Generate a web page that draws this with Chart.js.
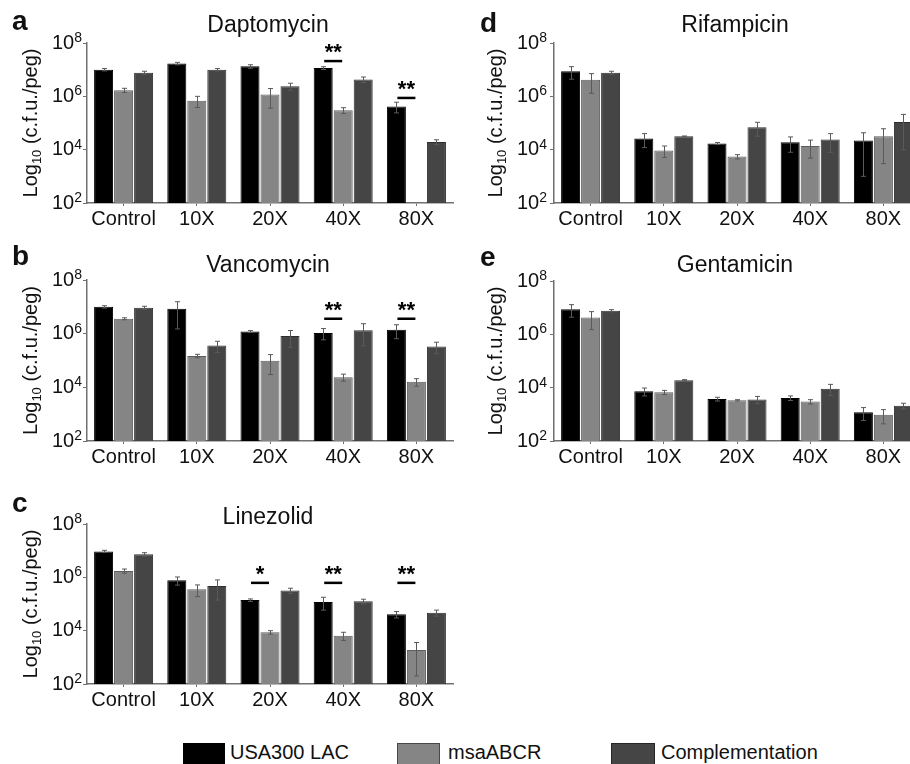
<!DOCTYPE html>
<html>
<head>
<meta charset="utf-8">
<script src="https://cdn.jsdelivr.net/npm/chart.js@4.4.1/dist/chart.umd.min.js"></script>
<style>
  html, body { margin: 0; padding: 0; background: #fff; overflow: hidden; }
  body { width: 910px; height: 764px; position: relative; font-family: 'Liberation Sans', Arial, sans-serif; color: #111; }
  canvas { position: absolute; }
  .key { position: absolute; top: 742px; font-size: 20px; line-height: 20px; white-space: nowrap; }
  .swatch { position: absolute; top: 743px; height: 22px; box-sizing: border-box; border: 1px solid rgba(0, 0, 0, 0.45); }
</style>
</head>
<body>
<canvas id="panelA"></canvas>
<canvas id="panelB"></canvas>
<canvas id="panelC"></canvas>
<canvas id="panelD"></canvas>
<canvas id="panelE"></canvas>

<div class="swatch" style="left:183px; width:42px; background:#000000;"></div>
<div class="key" style="left:230px;">USA300 LAC</div>
<div class="swatch" style="left:397px; width:43px; background:#858585;"></div>
<div class="key" style="left:448px;">msaABCR</div>
<div class="swatch" style="left:611px; width:44px; background:#454545;"></div>
<div class="key" style="left:661px;">Complementation</div>

<script>
const FONT = "'Liberation Sans', Arial, sans-serif";

const doses = ['Control', '10X', '20X', '40X', '80X'];
const strains = ['USA300 LAC', 'msaABCR', 'Complementation'];
const yTicks = [1e2, 1e4, 1e6, 1e8];

// Daptomycin (c.f.u./peg, mean and SD)
const daptoLac = [1.0e7, 1.7e7, 1.33e7, 1.15e7, 4.2e5];
const daptoMsa = [1.7e6, 6.9e5, 1.16e6, 3.0e5, null];
const daptoComp = [7.7e6, 1.0e7, 2.4e6, 4.3e6, 1.95e4];
const daptoLacSd = [1.0e6, 1.8e6, 2.0e6, 1.4e6, 1.8e5];
const daptoMsaSd = [3.0e5, 3.1e5, 8.0e5, 7.5e4, null];
const daptoCompSd = [1.0e6, 1.0e6, 7.0e5, 1.0e6, 4.0e3];
const daptoSig = ['', '', '', '**', '**'];
const daptoSigAt = [null, null, null, 2.1e7, 8.7e5];

// Vancomycin
const vancoLac = [1.0e7, 8.5e6, 1.2e6, 1.07e6, 1.4e6];
const vancoMsa = [3.6e6, 1.48e5, 9.8e4, 2.4e4, 1.6e4];
const vancoComp = [9.2e6, 3.6e5, 8.1e5, 1.35e6, 3.3e5];
const vancoLacSd = [1.0e6, 7.0e6, 1.0e5, 4.8e5, 7.5e5];
const vancoMsaSd = [3.0e5, 2.2e4, 6.8e4, 7.0e3, 5.0e3];
const vancoCompSd = [1.3e6, 1.6e5, 5.0e5, 1.0e6, 1.5e5];
const vancoSig = ['', '', '', '**', '**'];
const vancoSigAt = [null, null, null, 3.6e6, 3.6e6];

// Linezolid
const linezLac = [9.4e6, 7.7e5, 1.4e5, 1.19e5, 4.1e4];
const linezMsa = [1.74e6, 3.55e5, 8.7e3, 6.5e3, 1.9e3];
const linezComp = [7.3e6, 4.7e5, 3.2e5, 1.26e5, 4.7e4];
const linezLacSd = [9.0e5, 2.6e5, 1.5e4, 6.0e4, 1.1e4];
const linezMsaSd = [3.1e5, 1.65e5, 1.3e3, 2.2e3, 1.7e3];
const linezCompSd = [1.1e6, 3.3e5, 7.0e4, 2.5e4, 1.2e4];
const linezSig = ['', '', '*', '**', '**'];
const linezSigAt = [null, null, 6.2e5, 6.2e5, 6.2e5];

// Rifampicin
const rifLac = [8.7e6, 2.6e4, 1.7e4, 1.9e4, 2.2e4];
const rifMsa = [4.2e6, 9.4e3, 5.5e3, 1.38e4, 3.2e4];
const rifComp = [7.7e6, 3.16e4, 6.9e4, 2.4e4, 1.1e5];
const rifLacSd = [4.3e6, 1.4e4, 1.5e3, 1.1e4, 2.1e4];
const rifMsaSd = [2.9e6, 4.3e3, 1.0e3, 9.0e3, 2.9e4];
const rifCompSd = [1.0e6, 1.0e3, 3.7e4, 1.6e4, 1.0e5];

// Gentamicin
const gentLac = [8.7e6, 7.3e3, 3.76e3, 4.1e3, 1.19e3];
const gentMsa = [4.3e6, 6.7e3, 3.35e3, 3.0e3, 9.7e2];
const gentComp = [7.7e6, 1.9e4, 3.6e3, 9.2e3, 2.1e3];
const gentLacSd = [4.3e6, 2.4e3, 6.0e2, 8.0e2, 6.0e2];
const gentMsaSd = [2.8e6, 1.2e3, 2.0e2, 5.5e2, 5.3e2];
const gentCompSd = [7.0e5, 1.0e3, 1.1e3, 4.1e3, 5.0e2];

const barColors = ['#000000', '#858585', '#454545'];
const barEdges = ['#000000', '#5c5c5c', '#2e2e2e'];

// canvas placement and axis geometry for each panel
const panels = [
  { id: 'panelA', letter: 'a', title: 'Daptomycin',
    series: [daptoLac, daptoMsa, daptoComp], sd: [daptoLacSd, daptoMsaSd, daptoCompSd],
    sig: daptoSig, sigAt: daptoSigAt,
    left: 0, top: 0, width: 460, height: 240, padTop: 43, padRight: 7, axisW: 87, xAxisH: 37,
    letterX: 12, letterY: 30, titleY: 32, axisTitleX: 30, labelGap: 1 },
  { id: 'panelB', letter: 'b', title: 'Vancomycin',
    series: [vancoLac, vancoMsa, vancoComp], sd: [vancoLacSd, vancoMsaSd, vancoCompSd],
    sig: vancoSig, sigAt: vancoSigAt,
    left: 0, top: 240, width: 460, height: 240, padTop: 40, padRight: 7, axisW: 87, xAxisH: 39,
    letterX: 12, letterY: 25, titleY: 32, axisTitleX: 30, labelGap: 1 },
  { id: 'panelC', letter: 'c', title: 'Linezolid',
    series: [linezLac, linezMsa, linezComp], sd: [linezLacSd, linezMsaSd, linezCompSd],
    sig: linezSig, sigAt: linezSigAt,
    left: 0, top: 480, width: 460, height: 240, padTop: 44, padRight: 7, axisW: 87, xAxisH: 36,
    letterX: 12, letterY: 32, titleY: 44, axisTitleX: 30, labelGap: 1 },
  { id: 'panelD', letter: 'd', title: 'Rifampicin',
    series: [rifLac, rifMsa, rifComp], sd: [rifLacSd, rifMsaSd, rifCompSd],
    sig: null, sigAt: null,
    left: 450, top: 0, width: 480, height: 240, padTop: 43, padRight: 10, axisW: 104, xAxisH: 37,
    letterX: 30, letterY: 32, titleY: 32, axisTitleX: 45, labelGap: 3 },
  { id: 'panelE', letter: 'e', title: 'Gentamicin',
    series: [gentLac, gentMsa, gentComp], sd: [gentLacSd, gentMsaSd, gentCompSd],
    sig: null, sigAt: null,
    left: 450, top: 240, width: 480, height: 240, padTop: 41, padRight: 10, axisW: 104, xAxisH: 39,
    letterX: 30, letterY: 26, titleY: 32, axisTitleX: 45, labelGap: 3 },
];

// error bars, significance bars, exponent tick labels, axis title, panel letter and title
const panelDecor = {
  id: 'panelDecor',
  afterDatasetsDraw(chart, args, opts) {
    const p = opts.panel;
    const { ctx, chartArea: ca } = chart;
    const ys = chart.scales.y;
    const xs = chart.scales.x;
    ctx.save();

    // error bars
    ctx.strokeStyle = '#5a5a5a';
    ctx.lineWidth = 1;
    chart.data.datasets.forEach((ds, di) => {
      const meta = chart.getDatasetMeta(di);
      ds.data.forEach((v, i) => {
        const s = ds.errors[i];
        if (v == null || s == null) return;
        const x = Math.round(meta.data[i].x) + 0.5;
        const yHi = ys.getPixelForValue(v + s);
        const yLo = ys.getPixelForValue(Math.max(v - s, ys.min));
        ctx.beginPath();
        ctx.moveTo(x, yHi); ctx.lineTo(x, yLo);
        ctx.moveTo(x - 2.5, yHi); ctx.lineTo(x + 2.5, yHi);
        ctx.moveTo(x - 2.5, yLo); ctx.lineTo(x + 2.5, yLo);
        ctx.stroke();
      });
    });

    // significance marks between USA300 LAC and msaABCR
    if (p.sig) {
      const m0 = chart.getDatasetMeta(0);
      p.sig.forEach((mark, i) => {
        if (!mark) return;
        const y = ys.getPixelForValue(p.sigAt[i]);
        const x0 = m0.data[i].x + 1;
        const x1 = xs.getPixelForValue(i) - 1;
        ctx.strokeStyle = '#000';
        ctx.lineWidth = 2.5;
        ctx.beginPath();
        ctx.moveTo(x0, y); ctx.lineTo(x1, y);
        ctx.stroke();
        ctx.fillStyle = '#000';
        ctx.font = `bold 22px ${FONT}`;
        ctx.textAlign = 'center';
        ctx.textBaseline = 'alphabetic';
        ctx.fillText(mark, (x0 + x1) / 2, y - 2);
      });
    }

    ctx.fillStyle = '#111';

    // y tick labels as 10 with a raised exponent
    yTicks.forEach(v => {
      const py = ys.getPixelForValue(v);
      const exp = String(Math.round(Math.log10(v)));
      ctx.font = `14px ${FONT}`;
      const ew = ctx.measureText(exp).width;
      const right = ca.left - 4 - p.labelGap;
      ctx.textAlign = 'left';
      ctx.textBaseline = 'alphabetic';
      ctx.fillText(exp, right - ew, py - 1);
      ctx.font = `20px ${FONT}`;
      ctx.textAlign = 'right';
      ctx.textBaseline = 'middle';
      ctx.fillText('10', right - ew, py);
    });

    // rotated axis title with subscript
    const parts = [['Log', 20, 0], ['10', 13, 4], [' (c.f.u./peg)', 20, 0]];
    let total = 0;
    parts.forEach(([t, size]) => { ctx.font = `${size}px ${FONT}`; total += ctx.measureText(t).width; });
    ctx.save();
    ctx.translate(p.axisTitleX, (ca.top + ca.bottom) / 2);
    ctx.rotate(-Math.PI / 2);
    ctx.textAlign = 'left';
    ctx.textBaseline = 'alphabetic';
    let x = -total / 2;
    parts.forEach(([t, size, dy]) => {
      ctx.font = `${size}px ${FONT}`;
      ctx.fillText(t, x, 7 + dy);
      x += ctx.measureText(t).width;
    });
    ctx.restore();

    // panel letter and drug name
    ctx.textBaseline = 'alphabetic';
    ctx.textAlign = 'left';
    ctx.font = `bold 28px ${FONT}`;
    ctx.fillText(p.letter, p.letterX, p.letterY);
    ctx.textAlign = 'center';
    ctx.font = `23px ${FONT}`;
    ctx.fillText(p.title, (ca.left + ca.right) / 2 - 2, p.titleY);

    ctx.restore();
  }
};

panels.forEach(p => {
  const canvas = document.getElementById(p.id);
  canvas.width = p.width;
  canvas.height = p.height;
  canvas.style.left = p.left + 'px';
  canvas.style.top = p.top + 'px';

  new Chart(canvas.getContext('2d'), {
    type: 'bar',
    data: {
      labels: doses,
      datasets: strains.map((name, k) => ({
        label: name,
        data: p.series[k],
        errors: p.sd[k],
        backgroundColor: barColors[k],
        borderColor: barEdges[k],
        borderWidth: 1,
        categoryPercentage: 0.82,
        barPercentage: 0.95,
      })),
    },
    options: {
      responsive: false,
      animation: false,
      events: [],
      layout: { padding: { left: 0, top: p.padTop, right: p.padRight, bottom: 0 } },
      plugins: {
        legend: { display: false },
        tooltip: { enabled: false },
        panelDecor: { panel: p },
      },
      scales: {
        x: {
          grid: { offset: false, drawOnChartArea: false, tickLength: 3, tickColor: '#707070' },
          border: { color: '#707070', width: 1.5 },
          ticks: { font: { family: FONT, size: 20 }, color: '#111', padding: 1, maxRotation: 0, autoSkip: false },
          afterFit: (s) => { s.height = p.xAxisH; },
        },
        y: {
          type: 'logarithmic',
          min: 1e2,
          max: 1e8,
          afterBuildTicks: (s) => { s.ticks = yTicks.map(v => ({ value: v })); },
          grid: { drawOnChartArea: false, tickLength: 4, tickColor: '#707070' },
          border: { color: '#707070', width: 1.5 },
          ticks: { display: false },
          afterFit: (s) => { s.width = p.axisW; },
        },
      },
    },
    plugins: [panelDecor],
  });
});
</script>
</body>
</html>
